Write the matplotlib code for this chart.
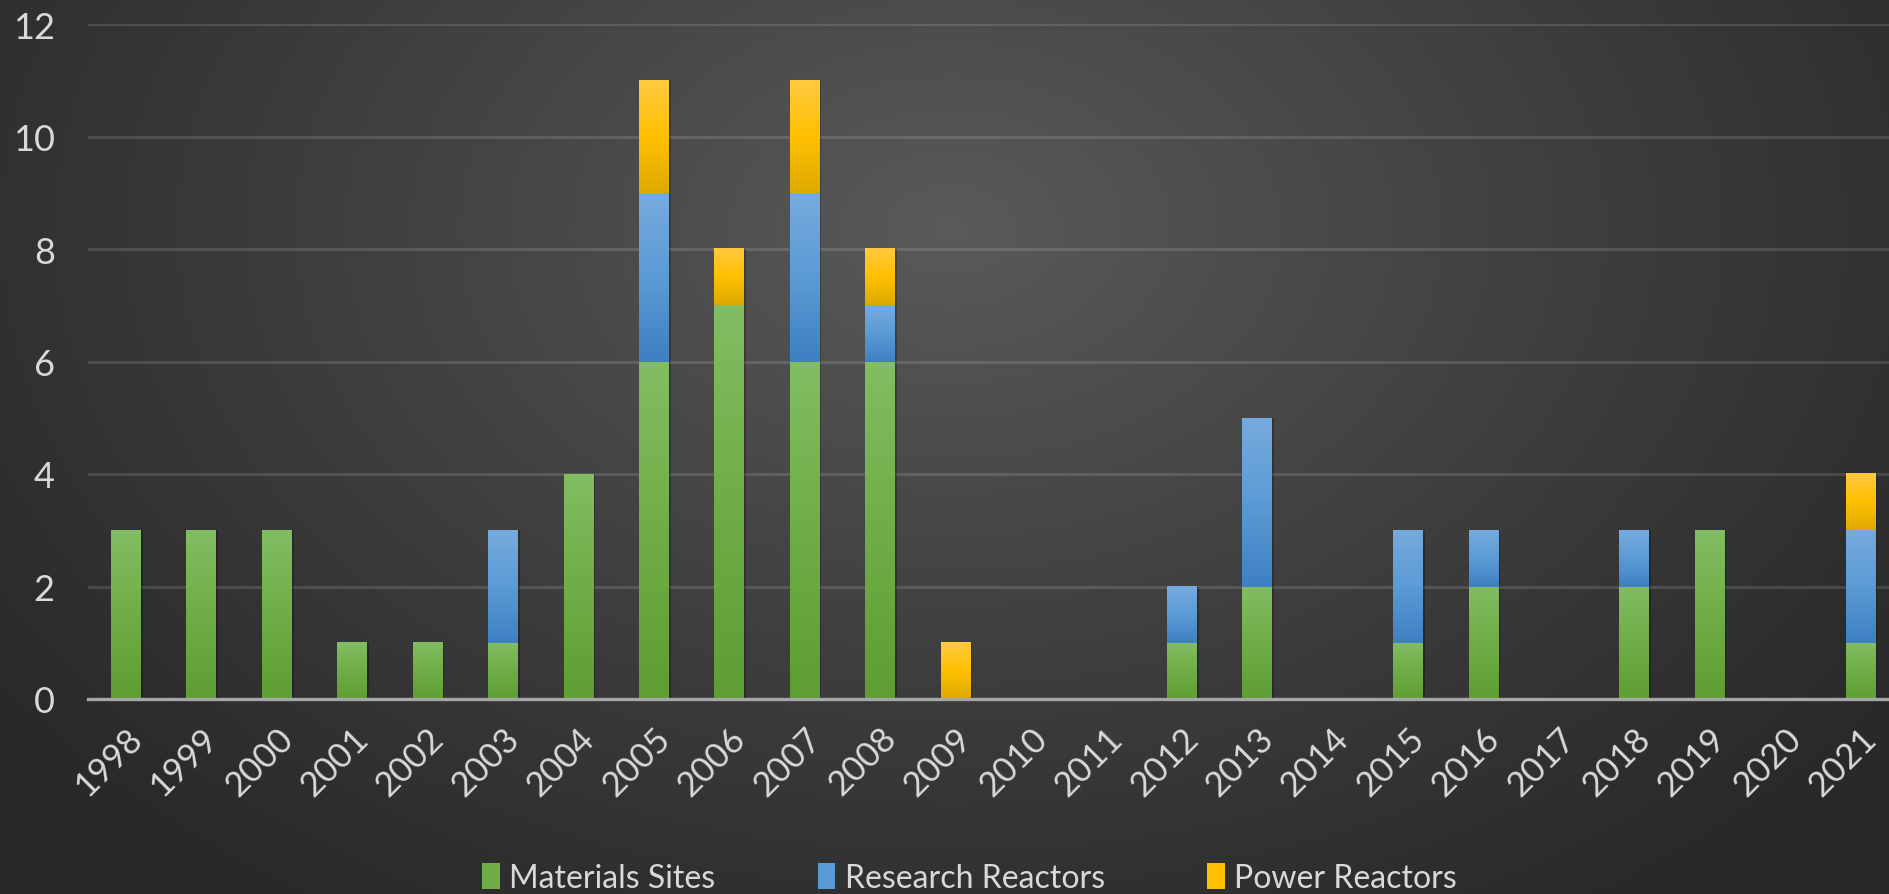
import numpy as np
import matplotlib
matplotlib.use("Agg")
import matplotlib.pyplot as plt
from matplotlib.colors import LinearSegmentedColormap
from matplotlib.patches import Patch

plt.rcParams['font.family'] = ['Lato', 'DejaVu Sans']

years = [str(y) for y in range(1998, 2022)]
materials = [3, 3, 3, 1, 1, 1, 4, 6, 7, 6, 6, 0, 0, 0, 1, 2, 0, 1, 2, 0, 2, 3, 0, 1]
research = [0, 0, 0, 0, 0, 2, 0, 3, 0, 3, 1, 0, 0, 0, 1, 3, 0, 2, 1, 0, 1, 0, 0, 2]
power = [0, 0, 0, 0, 0, 0, 0, 2, 1, 2, 1, 1, 0, 0, 0, 0, 0, 0, 0, 0, 0, 0, 0, 1]

series = [
    ("Materials Sites", materials, ["#82bd62", "#70ad47", "#5e9e33"], "#70ad47"),
    ("Research Reactors", research, ["#76aade", "#5b9bd5", "#3e80c2"], "#5b9bd5"),
    ("Power Reactors", power, ["#ffca40", "#ffc000", "#deaa00"], "#ffc000"),
]

W, H = 1890, 895
fig = plt.figure(figsize=(W / 100, H / 100), dpi=100)

# radial gradient background
bg = fig.add_axes([0, 0, 1, 1])
xx, yy = np.meshgrid(np.arange(W), np.arange(H))
r = np.sqrt(((xx - 950) / 1150) ** 2 + ((yy - 230) / 800) ** 2)
t = np.clip(1 - r, 0, 1) ** 1.1
shade = 0x2a + (0x5a - 0x2a) * t
img = np.dstack([shade, shade, shade]) / 255
bg.imshow(img, extent=[0, 1, 0, 1], aspect='auto', origin='upper')
bg.axis('off')

ax = fig.add_axes([88 / W, 195 / H, (1898 - 88) / W, 675 / H])
ax.set_facecolor('none')

x = np.arange(len(years))
width = 0.39
bottom = np.zeros(len(years))
for name, vals, cols, base in series:
    vals = np.array(vals, dtype=float)
    bars = ax.bar(x, vals, width, bottom=bottom, color=base, zorder=3)
    cmap = LinearSegmentedColormap.from_list(name, cols[::-1])
    grad = np.linspace(0, 1, 64).reshape(-1, 1)
    for b in bars:
        if b.get_height() == 0:
            continue
        x0, y0 = b.get_x(), b.get_y()
        ax.imshow(grad, cmap=cmap, origin='lower', aspect='auto', zorder=4,
                  extent=[x0, x0 + b.get_width(), y0, y0 + b.get_height()])
        ax.add_patch(plt.Rectangle((x0 + 0.03, y0), b.get_width(), b.get_height(),
                                   facecolor='black', alpha=0.25, zorder=2, linewidth=0))
    bottom += vals

ax.set_xlim(-0.5, len(years) - 0.5)
ax.set_ylim(0, 12)
ax.set_yticks(range(0, 13, 2))
ax.yaxis.grid(True, color='white', alpha=0.13, linewidth=2.2, zorder=0)
ax.set_axisbelow(True)
for s in ['top', 'right', 'left']:
    ax.spines[s].set_visible(False)
ax.spines['bottom'].set_color('#a6a6a6')
ax.spines['bottom'].set_linewidth(2.4)
ax.spines['bottom'].set_zorder(5)
ax.tick_params(axis='both', length=0, colors='#d9d9d9')
ax.tick_params(axis='y', labelsize=26, pad=24)
ax.set_xticks(x)
ax.set_xticklabels(years, rotation=45, ha='right', va='top', rotation_mode='anchor',
                   fontsize=25)
ax.tick_params(axis='x', pad=16)

handles = [Patch(facecolor=s[3], edgecolor='none') for s in series]
fig.legend(handles, [s[0] for s in series], loc='center', bbox_to_anchor=(0.513, 0.018),
           ncol=3, frameon=False, fontsize=23, labelcolor='#d9d9d9',
           handlelength=0.55, handleheight=0.9, handletextpad=0.3, columnspacing=3.2)

fig.savefig("out.png", dpi=100)
